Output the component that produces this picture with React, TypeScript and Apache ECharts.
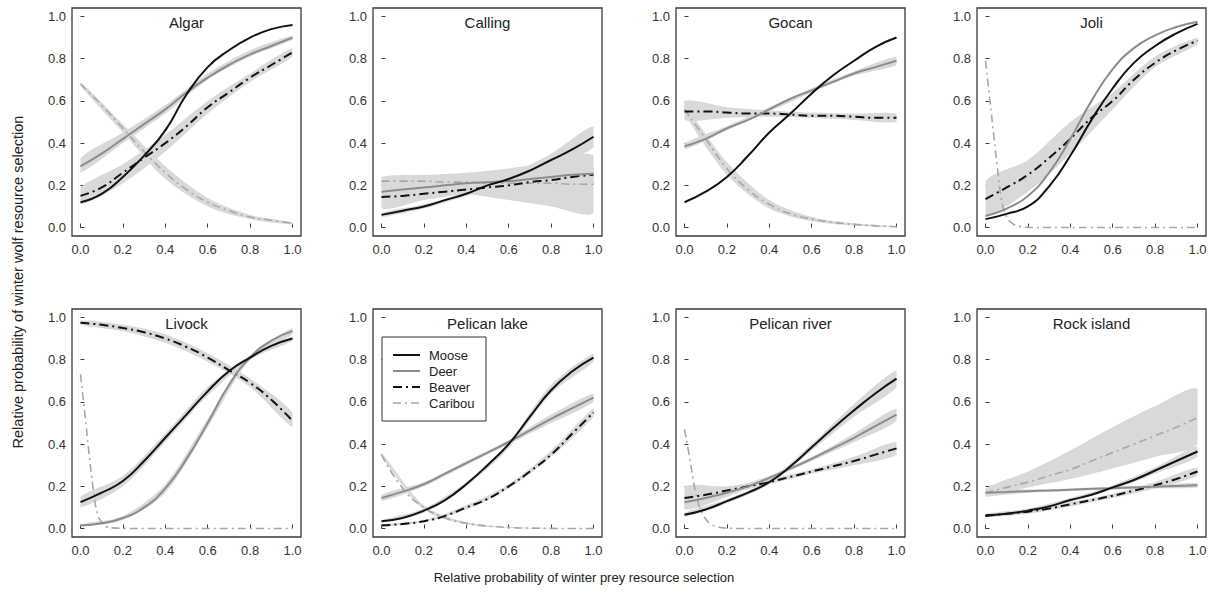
import React, { useEffect, useRef } from 'react';
import * as echarts from 'echarts';

// ---------- data ----------
const PANELS = ['Algar', 'Calling', 'Gocan', 'Joli', 'Livock', 'Pelican lake', 'Pelican river', 'Rock island'];
const SPECIES = ['Moose', 'Deer', 'Beaver', 'Caribou'];
const TICKS = [0, 0.2, 0.4, 0.6, 0.8, 1.0];

// x positions of curve readings
const X = [0, 0.1, 0.2, 0.3, 0.4, 0.5, 0.6, 0.7, 0.8, 0.9, 1.0];
const XS = [0, 0.02, 0.04, 0.06, 0.08, 0.1, 0.12, 0.15, 0.2, 0.3, 0.5, 1.0];
const XB = [0, 0.2, 0.4, 0.6, 0.8, 1.0];

// Algar
const algarMoose = [0.12, 0.16, 0.24, 0.34, 0.46, 0.63, 0.76, 0.84, 0.9, 0.94, 0.96];
const algarDeer = [0.29, 0.35, 0.42, 0.49, 0.56, 0.64, 0.71, 0.77, 0.82, 0.86, 0.9];
const algarDeerLo = [0.26, 0.4, 0.54, 0.7, 0.81, 0.89];
const algarDeerHi = [0.33, 0.45, 0.58, 0.73, 0.84, 0.91];
const algarBeaver = [0.15, 0.19, 0.26, 0.33, 0.4, 0.48, 0.57, 0.64, 0.71, 0.77, 0.83];
const algarBeaverLo = [0.11, 0.21, 0.36, 0.54, 0.69, 0.81];
const algarBeaverHi = [0.19, 0.3, 0.44, 0.6, 0.73, 0.85];
const algarCaribou = [0.68, 0.58, 0.47, 0.36, 0.26, 0.18, 0.12, 0.08, 0.05, 0.035, 0.02];
const algarCaribouLo = [0.67, 0.45, 0.23, 0.1, 0.04, 0.015];
const algarCaribouHi = [0.69, 0.49, 0.29, 0.14, 0.06, 0.025];

// Calling
const callingMoose = [0.06, 0.08, 0.1, 0.13, 0.16, 0.2, 0.23, 0.27, 0.32, 0.37, 0.43];
const callingMooseLo = [0.05, 0.09, 0.15, 0.21, 0.29, 0.38];
const callingMooseHi = [0.07, 0.11, 0.17, 0.25, 0.35, 0.48];
const callingDeer = [0.17, 0.18, 0.19, 0.2, 0.21, 0.215, 0.22, 0.23, 0.24, 0.25, 0.255];
const callingDeerLo = [0.16, 0.18, 0.2, 0.21, 0.22, 0.23];
const callingDeerHi = [0.18, 0.2, 0.22, 0.23, 0.26, 0.28];
const callingBeaver = [0.145, 0.15, 0.16, 0.17, 0.18, 0.19, 0.2, 0.215, 0.225, 0.24, 0.25];
const callingBeaverLo = [0.09, 0.13, 0.16, 0.18, 0.19, 0.2];
const callingBeaverHi = [0.22, 0.2, 0.2, 0.22, 0.26, 0.3];
const callingCaribou = [0.22, 0.22, 0.22, 0.215, 0.215, 0.21, 0.21, 0.21, 0.21, 0.205, 0.205];
const callingCaribouLo = [0.2, 0.18, 0.16, 0.13, 0.1, 0.07];
const callingCaribouHi = [0.24, 0.25, 0.26, 0.28, 0.31, 0.34];

// Gocan
const gocanMoose = [0.12, 0.17, 0.24, 0.34, 0.45, 0.54, 0.635, 0.72, 0.79, 0.855, 0.9];
const gocanDeer = [0.385, 0.42, 0.47, 0.51, 0.56, 0.61, 0.65, 0.69, 0.73, 0.76, 0.79];
const gocanDeerLo = [0.37, 0.46, 0.55, 0.64, 0.72, 0.77];
const gocanDeerHi = [0.4, 0.48, 0.57, 0.66, 0.74, 0.81];
const gocanBeaver = [0.55, 0.55, 0.545, 0.54, 0.54, 0.535, 0.53, 0.53, 0.525, 0.52, 0.52];
const gocanBeaverLo = [0.51, 0.52, 0.525, 0.52, 0.51, 0.5];
const gocanBeaverHi = [0.6, 0.57, 0.555, 0.545, 0.54, 0.54];
const gocanCaribou = [0.56, 0.42, 0.28, 0.18, 0.11, 0.065, 0.04, 0.025, 0.015, 0.008, 0.004];
const gocanCaribouLo = [0.54, 0.25, 0.09, 0.03, 0.01, 0.002];
const gocanCaribouHi = [0.58, 0.31, 0.13, 0.05, 0.02, 0.006];

// Joli
const joliMoose = [0.04, 0.065, 0.1, 0.195, 0.34, 0.51, 0.66, 0.78, 0.86, 0.92, 0.965];
const joliDeer = [0.055, 0.09, 0.15, 0.26, 0.42, 0.6, 0.75, 0.85, 0.91, 0.95, 0.975];
const joliBeaver = [0.135, 0.19, 0.25, 0.33, 0.42, 0.52, 0.6, 0.7, 0.78, 0.84, 0.885];
const joliBeaverLo = [0.06, 0.17, 0.35, 0.56, 0.76, 0.87];
const joliBeaverHi = [0.22, 0.32, 0.5, 0.64, 0.81, 0.9];
const joliCaribou = [0.79, 0.61, 0.43, 0.25, 0.11, 0.05, 0.025, 0.008, 0.001, 0, 0, 0];

// Livock
const livockMoose = [0.125, 0.17, 0.225, 0.32, 0.43, 0.54, 0.65, 0.745, 0.81, 0.865, 0.9];
const livockMooseLo = [0.1, 0.2, 0.41, 0.63, 0.8, 0.89];
const livockMooseHi = [0.15, 0.25, 0.45, 0.67, 0.82, 0.91];
const livockDeer = [0.015, 0.025, 0.05, 0.1, 0.19, 0.33, 0.5, 0.68, 0.81, 0.89, 0.935];
const livockDeerLo = [0.01, 0.04, 0.17, 0.48, 0.8, 0.92];
const livockDeerHi = [0.02, 0.06, 0.21, 0.52, 0.82, 0.95];
const livockBeaver = [0.975, 0.965, 0.95, 0.93, 0.9, 0.86, 0.81, 0.75, 0.69, 0.61, 0.51];
const livockBeaverLo = [0.965, 0.935, 0.88, 0.79, 0.67, 0.48];
const livockBeaverHi = [0.985, 0.965, 0.92, 0.83, 0.71, 0.55];
const livockCaribou = [0.73, 0.55, 0.36, 0.19, 0.07, 0.03, 0.01, 0.003, 0.001, 0, 0, 0];

// Pelican lake
const plMoose = [0.035, 0.05, 0.085, 0.135, 0.21, 0.3, 0.4, 0.53, 0.655, 0.745, 0.81];
const plMooseLo = [0.03, 0.075, 0.2, 0.38, 0.64, 0.79];
const plMooseHi = [0.04, 0.095, 0.22, 0.41, 0.68, 0.83];
const plDeer = [0.145, 0.175, 0.21, 0.26, 0.31, 0.36, 0.41, 0.465, 0.52, 0.57, 0.62];
const plDeerLo = [0.13, 0.2, 0.3, 0.4, 0.5, 0.6];
const plDeerHi = [0.16, 0.22, 0.32, 0.42, 0.54, 0.64];
const plBeaver = [0.015, 0.022, 0.035, 0.06, 0.1, 0.14, 0.2, 0.27, 0.35, 0.45, 0.55];
const plBeaverLo = [0.01, 0.03, 0.09, 0.19, 0.34, 0.53];
const plBeaverHi = [0.02, 0.04, 0.11, 0.21, 0.37, 0.57];
const plCaribou = [0.35, 0.19, 0.1, 0.05, 0.025, 0.012, 0.005, 0.002, 0.001, 0, 0];
const plCaribouLo = [0.34, 0.09, 0.02, 0.003, 0, 0];
const plCaribouHi = [0.36, 0.11, 0.03, 0.008, 0.002, 0.001];

// Pelican river
const prMoose = [0.065, 0.09, 0.13, 0.17, 0.22, 0.295, 0.385, 0.475, 0.56, 0.64, 0.71];
const prMooseLo = [0.055, 0.12, 0.21, 0.37, 0.53, 0.67];
const prMooseHi = [0.075, 0.14, 0.23, 0.4, 0.59, 0.75];
const prDeer = [0.125, 0.145, 0.17, 0.2, 0.24, 0.285, 0.33, 0.38, 0.43, 0.485, 0.54];
const prDeerLo = [0.09, 0.15, 0.23, 0.32, 0.41, 0.51];
const prDeerHi = [0.17, 0.19, 0.25, 0.34, 0.45, 0.57];
const prBeaver = [0.145, 0.16, 0.18, 0.2, 0.22, 0.245, 0.27, 0.295, 0.32, 0.35, 0.38];
const prBeaverLo = [0.1, 0.16, 0.21, 0.26, 0.3, 0.35];
const prBeaverHi = [0.2, 0.2, 0.235, 0.28, 0.34, 0.41];
const prCaribou = [0.47, 0.36, 0.24, 0.14, 0.08, 0.045, 0.025, 0.01, 0.002, 0, 0, 0];

// Rock island
const riMoose = [0.063, 0.07, 0.085, 0.105, 0.135, 0.16, 0.195, 0.23, 0.275, 0.32, 0.365];
const riMooseLo = [0.055, 0.075, 0.125, 0.185, 0.26, 0.34];
const riMooseHi = [0.07, 0.095, 0.145, 0.205, 0.29, 0.39];
const riDeer = [0.17, 0.173, 0.177, 0.18, 0.184, 0.188, 0.191, 0.195, 0.198, 0.202, 0.205];
const riDeerLo = [0.155, 0.17, 0.178, 0.185, 0.19, 0.195];
const riDeerHi = [0.18, 0.185, 0.19, 0.198, 0.206, 0.215];
const riBeaver = [0.06, 0.07, 0.08, 0.095, 0.115, 0.135, 0.155, 0.18, 0.205, 0.235, 0.27];
const riBeaverLo = [0.055, 0.07, 0.105, 0.145, 0.19, 0.25];
const riBeaverHi = [0.065, 0.09, 0.125, 0.165, 0.22, 0.29];
const riCaribou = [0.17, 0.195, 0.22, 0.25, 0.28, 0.32, 0.36, 0.4, 0.44, 0.48, 0.525];
const riCaribouLo = [0.15, 0.195, 0.235, 0.285, 0.34, 0.4];
const riCaribouHi = [0.19, 0.27, 0.37, 0.48, 0.58, 0.66];

// ---------- tables built from the arrays ----------
type Curve = { p: number; s: number; x: number[]; y: number[]; lo?: number[]; hi?: number[] };
const CURVES: Curve[] = [
  { p: 0, s: 0, x: X, y: algarMoose },
  { p: 0, s: 1, x: X, y: algarDeer, lo: algarDeerLo, hi: algarDeerHi },
  { p: 0, s: 2, x: X, y: algarBeaver, lo: algarBeaverLo, hi: algarBeaverHi },
  { p: 0, s: 3, x: X, y: algarCaribou, lo: algarCaribouLo, hi: algarCaribouHi },
  { p: 1, s: 0, x: X, y: callingMoose, lo: callingMooseLo, hi: callingMooseHi },
  { p: 1, s: 1, x: X, y: callingDeer, lo: callingDeerLo, hi: callingDeerHi },
  { p: 1, s: 2, x: X, y: callingBeaver, lo: callingBeaverLo, hi: callingBeaverHi },
  { p: 1, s: 3, x: X, y: callingCaribou, lo: callingCaribouLo, hi: callingCaribouHi },
  { p: 2, s: 0, x: X, y: gocanMoose },
  { p: 2, s: 1, x: X, y: gocanDeer, lo: gocanDeerLo, hi: gocanDeerHi },
  { p: 2, s: 2, x: X, y: gocanBeaver, lo: gocanBeaverLo, hi: gocanBeaverHi },
  { p: 2, s: 3, x: X, y: gocanCaribou, lo: gocanCaribouLo, hi: gocanCaribouHi },
  { p: 3, s: 0, x: X, y: joliMoose },
  { p: 3, s: 1, x: X, y: joliDeer },
  { p: 3, s: 2, x: X, y: joliBeaver, lo: joliBeaverLo, hi: joliBeaverHi },
  { p: 3, s: 3, x: XS, y: joliCaribou },
  { p: 4, s: 0, x: X, y: livockMoose, lo: livockMooseLo, hi: livockMooseHi },
  { p: 4, s: 1, x: X, y: livockDeer, lo: livockDeerLo, hi: livockDeerHi },
  { p: 4, s: 2, x: X, y: livockBeaver, lo: livockBeaverLo, hi: livockBeaverHi },
  { p: 4, s: 3, x: XS, y: livockCaribou },
  { p: 5, s: 0, x: X, y: plMoose, lo: plMooseLo, hi: plMooseHi },
  { p: 5, s: 1, x: X, y: plDeer, lo: plDeerLo, hi: plDeerHi },
  { p: 5, s: 2, x: X, y: plBeaver, lo: plBeaverLo, hi: plBeaverHi },
  { p: 5, s: 3, x: X, y: plCaribou, lo: plCaribouLo, hi: plCaribouHi },
  { p: 6, s: 0, x: X, y: prMoose, lo: prMooseLo, hi: prMooseHi },
  { p: 6, s: 1, x: X, y: prDeer, lo: prDeerLo, hi: prDeerHi },
  { p: 6, s: 2, x: X, y: prBeaver, lo: prBeaverLo, hi: prBeaverHi },
  { p: 6, s: 3, x: XS, y: prCaribou },
  { p: 7, s: 0, x: X, y: riMoose, lo: riMooseLo, hi: riMooseHi },
  { p: 7, s: 1, x: X, y: riDeer, lo: riDeerLo, hi: riDeerHi },
  { p: 7, s: 2, x: X, y: riBeaver, lo: riBeaverLo, hi: riBeaverHi },
  { p: 7, s: 3, x: X, y: riCaribou, lo: riCaribouLo, hi: riCaribouHi },
];

const FONT = '"Liberation Sans", Arial, Helvetica, sans-serif';
const BAND = '#d9d9d9';
const LINE_STYLES: any[] = [
  { color: '#111111', width: 2, type: 'solid' },
  { color: '#8c8c8c', width: 2, type: 'solid' },
  { color: '#111111', width: 2, type: [9, 4, 2, 4] },
  { color: '#a8a8a8', width: 1.6, type: [8, 4, 2, 4] },
];
const DRAW_ORDER = [3, 2, 1, 0];

const GRID_LEFTS = [72, 373, 676, 977];
const GRID_TOPS = [8, 309];
const GRID_W = 229;
const GRID_H = 228;

// legend box geometry (inside the Pelican lake panel)
const LEG_LEFT = 382;
const LEG_TOP = 337;
const LEG_W = 104;
const LEG_H = 84;

function buildOption() {
  const grid: any[] = [];
  const xAxis: any[] = [];
  const yAxis: any[] = [];
  const graphic: any[] = [];
  PANELS.forEach((name, i) => {
    const left = GRID_LEFTS[i % 4];
    const top = GRID_TOPS[Math.floor(i / 4)];
    grid.push({
      left, top, width: GRID_W, height: GRID_H,
      show: true, borderColor: '#3a3a3a', borderWidth: 1.3, backgroundColor: 'transparent',
    });
    const common = {
      type: 'value', gridIndex: i, min: -0.04, max: 1.04,
      axisLine: { show: false },
      splitLine: { show: false },
      axisTick: { show: true, inside: true, length: 4, customValues: TICKS, lineStyle: { color: '#3a3a3a', width: 1 } },
      axisLabel: {
        customValues: TICKS, formatter: (v: number) => v.toFixed(1),
        fontSize: 13, color: '#333', fontFamily: FONT,
      },
    };
    xAxis.push({ ...common, axisLabel: { ...common.axisLabel, margin: 7 } });
    yAxis.push({ ...common, axisLabel: { ...common.axisLabel, margin: 6 } });
    graphic.push({
      type: 'text', x: left + GRID_W / 2, y: top + 14, silent: true,
      style: {
        text: name, font: `15px ${FONT}`, fill: '#222',
        align: 'center', verticalAlign: 'middle', textAlign: 'center', textVerticalAlign: 'middle',
      },
    });
  });

  graphic.push({
    type: 'text', x: 18, y: 282, rotation: Math.PI / 2, silent: true,
    style: {
      text: 'Relative probability of winter wolf resource selection', font: `14.5px ${FONT}`, fill: '#222',
      align: 'center', verticalAlign: 'middle', textAlign: 'center', textVerticalAlign: 'middle',
    },
  });
  graphic.push({
    type: 'text', x: 584, y: 577, silent: true,
    style: {
      text: 'Relative probability of winter prey resource selection', font: `13px ${FONT}`, fill: '#222',
      align: 'center', verticalAlign: 'middle', textAlign: 'center', textVerticalAlign: 'middle',
    },
  });

  // legend drawn as a boxed key
  graphic.push({
    type: 'rect', silent: true, z: 20,
    shape: { x: LEG_LEFT, y: LEG_TOP, width: LEG_W, height: LEG_H },
    style: { fill: '#fff', stroke: '#333', lineWidth: 1 },
  });
  SPECIES.forEach((sp, k) => {
    const cy = LEG_TOP + 18 + k * 16;
    const st = LINE_STYLES[k];
    graphic.push({
      type: 'line', silent: true, z: 21,
      shape: { x1: LEG_LEFT + 11, y1: cy, x2: LEG_LEFT + 38, y2: cy },
      style: { stroke: st.color, lineWidth: st.width, lineDash: Array.isArray(st.type) ? st.type : null },
    });
    graphic.push({
      type: 'text', silent: true, z: 21, x: LEG_LEFT + 47, y: cy,
      style: {
        text: sp, font: `13px ${FONT}`, fill: '#222',
        align: 'left', verticalAlign: 'middle', textAlign: 'left', textVerticalAlign: 'middle',
      },
    });
  });

  const series: any[] = [];
  // confidence bands first
  CURVES.forEach((c) => {
    if (!c.lo || !c.hi) return;
    const lo = c.lo;
    const hi = c.hi;
    const xs = XB;
    series.push({
      type: 'custom', name: 'band', xAxisIndex: c.p, yAxisIndex: c.p, silent: true, z: 1, clip: true,
      data: xs.map((x, k) => [x, lo[k], hi[k]]),
      encode: { x: 0, y: [1, 2] },
      renderItem: (params: any, api: any) => {
        if (params.dataIndex !== 0) return null;
        const up = xs.map((x, k) => api.coord([x, hi[k]]));
        const dn = xs.map((x, k) => api.coord([x, lo[k]])).reverse();
        const a = api.coord([xs[0], 0]);
        const b = api.coord([xs[xs.length - 1], 0]);
        return {
          type: 'polygon', silent: true,
          shape: { points: up.concat(dn), smooth: 0.3, smoothConstraint: [[a[0], -10000], [b[0], 10000]] },
          style: { fill: BAND, stroke: null },
        };
      },
    });
  });
  // curves
  DRAW_ORDER.forEach((s) => {
    CURVES.filter((c) => c.s === s).forEach((c) => {
      series.push({
        type: 'line', name: SPECIES[s], xAxisIndex: c.p, yAxisIndex: c.p,
        data: c.x.map((x, k) => [x, c.y[k]]),
        symbol: 'none', showSymbol: false, smooth: 0.5,
        lineStyle: { ...LINE_STYLES[s] }, itemStyle: { color: LINE_STYLES[s].color },
        silent: true, z: 3 + (3 - s), clip: true,
      });
    });
  });

  return {
    animation: false,
    backgroundColor: '#ffffff',
    textStyle: { fontFamily: FONT },
    grid, xAxis, yAxis, series, graphic,
  };
}

export default function App() {
  const ref = useRef<HTMLDivElement>(null);
  useEffect(() => {
    if (!ref.current) return;
    const chart = echarts.init(ref.current, null, { renderer: 'svg' });
    chart.setOption(buildOption() as any);
    return () => chart.dispose();
  }, []);
  return (
    <div
      ref={ref}
      style={{ position: 'absolute', left: 0, top: 0, width: 1210, height: 594, background: '#fff' }}
    />
  );
}
